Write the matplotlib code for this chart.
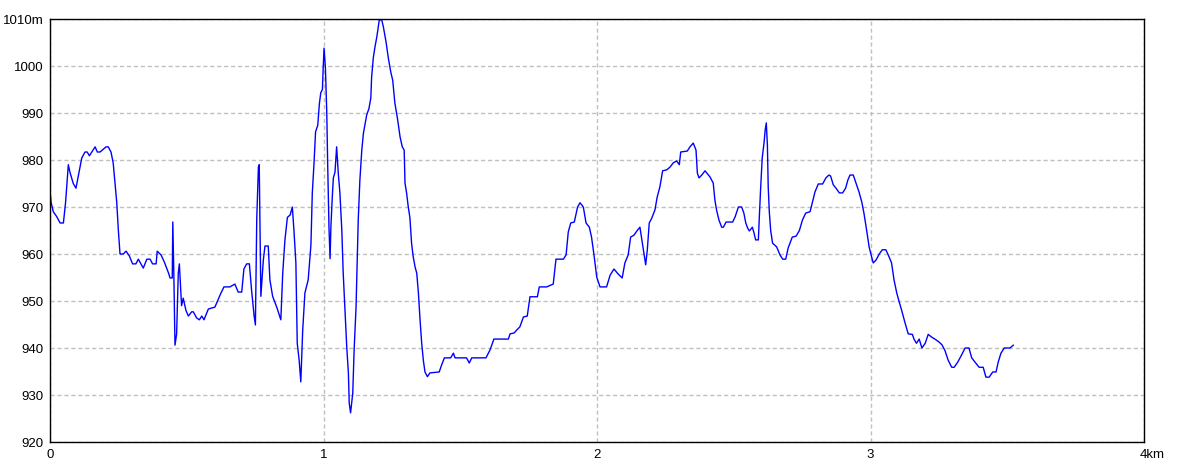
import numpy as np
import matplotlib
matplotlib.use("Agg")
import matplotlib.pyplot as plt
import matplotlib.transforms as mtransforms

# distance along the track (km) and elevation (m)
dist_km = [
    0.000, 0.004, 0.012, 0.024, 0.037, 0.049, 0.057, 0.067, 0.073, 0.085,
    0.095, 0.103, 0.116, 0.128, 0.136, 0.144, 0.165, 0.173, 0.183, 0.205,
    0.213, 0.223, 0.231, 0.244, 0.250, 0.256, 0.268, 0.278, 0.290, 0.302,
    0.314, 0.323, 0.341, 0.354, 0.366, 0.375, 0.388, 0.392, 0.406, 0.418,
    0.433, 0.439, 0.447, 0.449, 0.453, 0.457, 0.463, 0.469, 0.473, 0.481,
    0.487, 0.497, 0.506, 0.518, 0.524, 0.536, 0.546, 0.555, 0.563, 0.579,
    0.603, 0.622, 0.636, 0.658, 0.676, 0.688, 0.701, 0.709, 0.719, 0.729,
    0.737, 0.746, 0.751, 0.756, 0.762, 0.765, 0.771, 0.780, 0.786, 0.798,
    0.804, 0.814, 0.829, 0.844, 0.851, 0.859, 0.868, 0.878, 0.886, 0.892,
    0.899, 0.904, 0.911, 0.917, 0.924, 0.932, 0.944, 0.954, 0.959, 0.965,
    0.971, 0.979, 0.985, 0.990, 0.996, 0.999, 1.002, 1.007, 1.012, 1.015,
    1.020, 1.024, 1.027, 1.032, 1.036, 1.042, 1.048, 1.054, 1.060, 1.067,
    1.072, 1.079, 1.085, 1.091, 1.094, 1.099, 1.107, 1.112, 1.119, 1.127,
    1.133, 1.140, 1.146, 1.158, 1.166, 1.173, 1.176, 1.182, 1.188, 1.195,
    1.204, 1.213, 1.219, 1.229, 1.237, 1.246, 1.253, 1.261, 1.270, 1.280,
    1.288, 1.295, 1.298, 1.304, 1.310, 1.316, 1.322, 1.328, 1.335, 1.341,
    1.347, 1.353, 1.359, 1.365, 1.371, 1.380, 1.389, 1.423, 1.432, 1.442,
    1.465, 1.475, 1.481, 1.523, 1.533, 1.542, 1.594, 1.609, 1.623, 1.676,
    1.682, 1.697, 1.706, 1.718, 1.731, 1.745, 1.755, 1.782, 1.789, 1.816,
    1.840, 1.850, 1.877, 1.887, 1.895, 1.904, 1.917, 1.929, 1.938, 1.950,
    1.960, 1.972, 1.980, 1.989, 1.999, 2.011, 2.035, 2.048, 2.062, 2.078,
    2.092, 2.102, 2.114, 2.123, 2.135, 2.147, 2.157, 2.163, 2.172, 2.178,
    2.184, 2.191, 2.200, 2.212, 2.220, 2.230, 2.240, 2.255, 2.267, 2.279,
    2.291, 2.301, 2.306, 2.330, 2.340, 2.352, 2.362, 2.367, 2.373, 2.383,
    2.395, 2.413, 2.425, 2.431, 2.437, 2.446, 2.456, 2.462, 2.472, 2.496,
    2.505, 2.517, 2.529, 2.537, 2.544, 2.551, 2.557, 2.568, 2.574, 2.580,
    2.590, 2.593, 2.598, 2.604, 2.611, 2.615, 2.619, 2.623, 2.626, 2.630,
    2.635, 2.642, 2.657, 2.669, 2.679, 2.690, 2.699, 2.714, 2.728, 2.740,
    2.751, 2.763, 2.779, 2.787, 2.797, 2.809, 2.825, 2.837, 2.848, 2.854,
    2.864, 2.874, 2.886, 2.898, 2.909, 2.917, 2.925, 2.937, 2.947, 2.958,
    2.968, 2.976, 2.986, 2.995, 3.004, 3.010, 3.020, 3.032, 3.043, 3.056,
    3.065, 3.077, 3.086, 3.096, 3.105, 3.114, 3.126, 3.138, 3.153, 3.159,
    3.168, 3.178, 3.188, 3.200, 3.211, 3.224, 3.238, 3.250, 3.261, 3.272,
    3.284, 3.297, 3.306, 3.319, 3.331, 3.346, 3.360, 3.370, 3.382, 3.397,
    3.412, 3.422, 3.434, 3.447, 3.459, 3.467, 3.477, 3.489, 3.510, 3.522,
]

elev_m = [
    973.5, 971.0, 969.0, 968.0, 966.6, 966.6, 971.0, 979.0, 977.4, 975.0,
    974.0, 976.4, 980.4, 981.7, 981.7, 980.9, 982.8, 981.7, 981.7, 982.8,
    982.8, 981.7, 979.4, 971.0, 965.0, 960.0, 960.0, 960.6, 959.6, 957.9,
    957.9, 958.9, 957.0, 958.9, 958.9, 957.9, 957.9, 960.6, 959.8, 958.3,
    956.0, 954.9, 954.9, 966.8, 955.0, 940.6, 943.0, 955.9, 957.9, 949.0,
    950.6, 948.0, 946.8, 947.7, 947.7, 946.4, 946.0, 946.8, 946.0, 948.3,
    948.7, 951.3, 953.0, 953.0, 953.6, 951.9, 951.9, 956.8, 957.9, 957.9,
    952.3, 947.0, 944.9, 967.6, 978.5, 979.0, 951.0, 958.7, 961.7, 961.7,
    954.5, 951.0, 948.7, 946.0, 956.0, 963.0, 967.8, 968.3, 970.0, 965.0,
    958.1, 941.0, 937.4, 932.8, 943.8, 951.7, 954.5, 961.9, 972.9, 979.0,
    986.0, 987.4, 992.0, 994.3, 995.0, 999.8, 1003.8, 999.6, 990.0, 980.0,
    965.7, 959.0, 965.7, 972.0, 976.2, 977.4, 982.8, 977.2, 973.0, 965.0,
    956.0, 947.4, 940.2, 934.7, 928.3, 926.2, 930.4, 939.6, 948.7, 967.2,
    975.7, 982.1, 985.7, 989.6, 990.9, 993.2, 997.7, 1001.7, 1004.0, 1006.2,
    1009.8, 1009.8, 1008.3, 1005.0, 1001.7, 998.7, 997.0, 992.1, 989.0, 984.9,
    982.8, 982.1, 975.1, 972.9, 970.0, 967.7, 962.3, 959.4, 957.2, 955.9,
    951.7, 946.0, 941.0, 937.4, 934.9, 933.9, 934.7, 934.9, 936.4, 937.9,
    937.9, 938.9, 937.9, 937.9, 936.8, 937.9, 937.9, 939.6, 941.9, 941.9,
    943.0, 943.2, 943.8, 944.5, 946.6, 946.8, 950.9, 950.9, 953.0, 953.0,
    953.6, 958.9, 958.9, 959.8, 964.7, 966.6, 966.8, 970.0, 970.9, 970.0,
    966.6, 965.7, 963.6, 959.8, 955.1, 953.0, 953.0, 955.5, 956.8, 955.7,
    954.9, 958.1, 959.8, 963.6, 964.0, 965.0, 965.7, 963.4, 959.8, 957.7,
    960.9, 966.6, 967.6, 969.4, 972.1, 974.3, 977.7, 977.9, 978.5, 979.4,
    979.8, 979.0, 981.7, 981.9, 982.8, 983.6, 982.1, 977.2, 976.2, 976.8,
    977.7, 976.4, 975.1, 971.5, 969.4, 967.2, 965.7, 965.7, 966.8, 966.8,
    967.9, 970.0, 970.0, 968.7, 966.6, 965.5, 964.9, 965.7, 964.5, 963.0,
    963.0, 967.2, 973.6, 980.4, 983.8, 986.4, 987.9, 983.2, 974.3, 969.0,
    965.0, 962.3, 961.5, 959.8, 958.9, 958.9, 961.3, 963.6, 963.8, 965.0,
    967.2, 968.7, 969.0, 970.9, 973.2, 974.9, 974.9, 976.2, 976.8, 976.6,
    974.7, 974.0, 973.0, 973.0, 974.0, 975.7, 976.8, 976.8, 975.1, 973.2,
    971.1, 968.7, 965.0, 961.5, 959.4, 958.1, 958.7, 960.0, 960.9, 960.9,
    959.8, 958.1, 954.5, 951.7, 949.8, 948.0, 945.4, 943.0, 942.9, 941.9,
    941.0, 941.9, 940.0, 941.0, 942.9, 942.3, 941.8, 941.3, 940.7, 939.5,
    937.4, 935.9, 935.9, 937.0, 938.3, 940.0, 940.0, 937.9, 937.0, 935.9,
    935.9, 933.8, 933.8, 934.9, 934.9, 937.0, 938.9, 940.0, 940.0, 940.6,
]

x_ticks = [0, 1, 2, 3, 4]
x_labels = ["0", "1", "2", "3", "4km"]
y_ticks = [920, 930, 940, 950, 960, 970, 980, 990, 1000, 1010]
y_labels = ["920", "930", "940", "950", "960", "970", "980", "990", "1000", "1010m"]

plt.rcParams['font.family'] = ['Liberation Sans', 'DejaVu Sans']

fig = plt.figure(figsize=(11.84, 4.73), dpi=100)
ax = fig.add_axes([50 / 1184, 31 / 473, 1094 / 1184, 423 / 473])

ax.plot(dist_km, elev_m, color='#0000ff', lw=1.0)

ax.set_xlim(0, 4)
ax.set_ylim(920, 1010)
ax.set_xticks(x_ticks)
ax.set_xticklabels(x_labels)
ax.set_yticks(y_ticks)
ax.set_yticklabels(y_labels)
ax.tick_params(length=0, labelsize=9.5, colors='black')
ax.tick_params(axis='y', pad=4.5)
ax.tick_params(axis='x', pad=5)

# the "4km" label sits with its digit on the tick, like the original
last = ax.get_xticklabels()[-1]
last.set_horizontalalignment('left')
last.set_transform(last.get_transform() +
                   mtransforms.ScaledTranslation(-4 / 100, 0, fig.dpi_scale_trans))

ax.grid(True, color='#c0c0c0', lw=1.0, linestyle=(0, (3, 2)))
ax.set_axisbelow(True)
for s in ax.spines.values():
    s.set_color('black')
    s.set_linewidth(1.0)

fig.savefig("out.png", dpi=100, facecolor='white')
